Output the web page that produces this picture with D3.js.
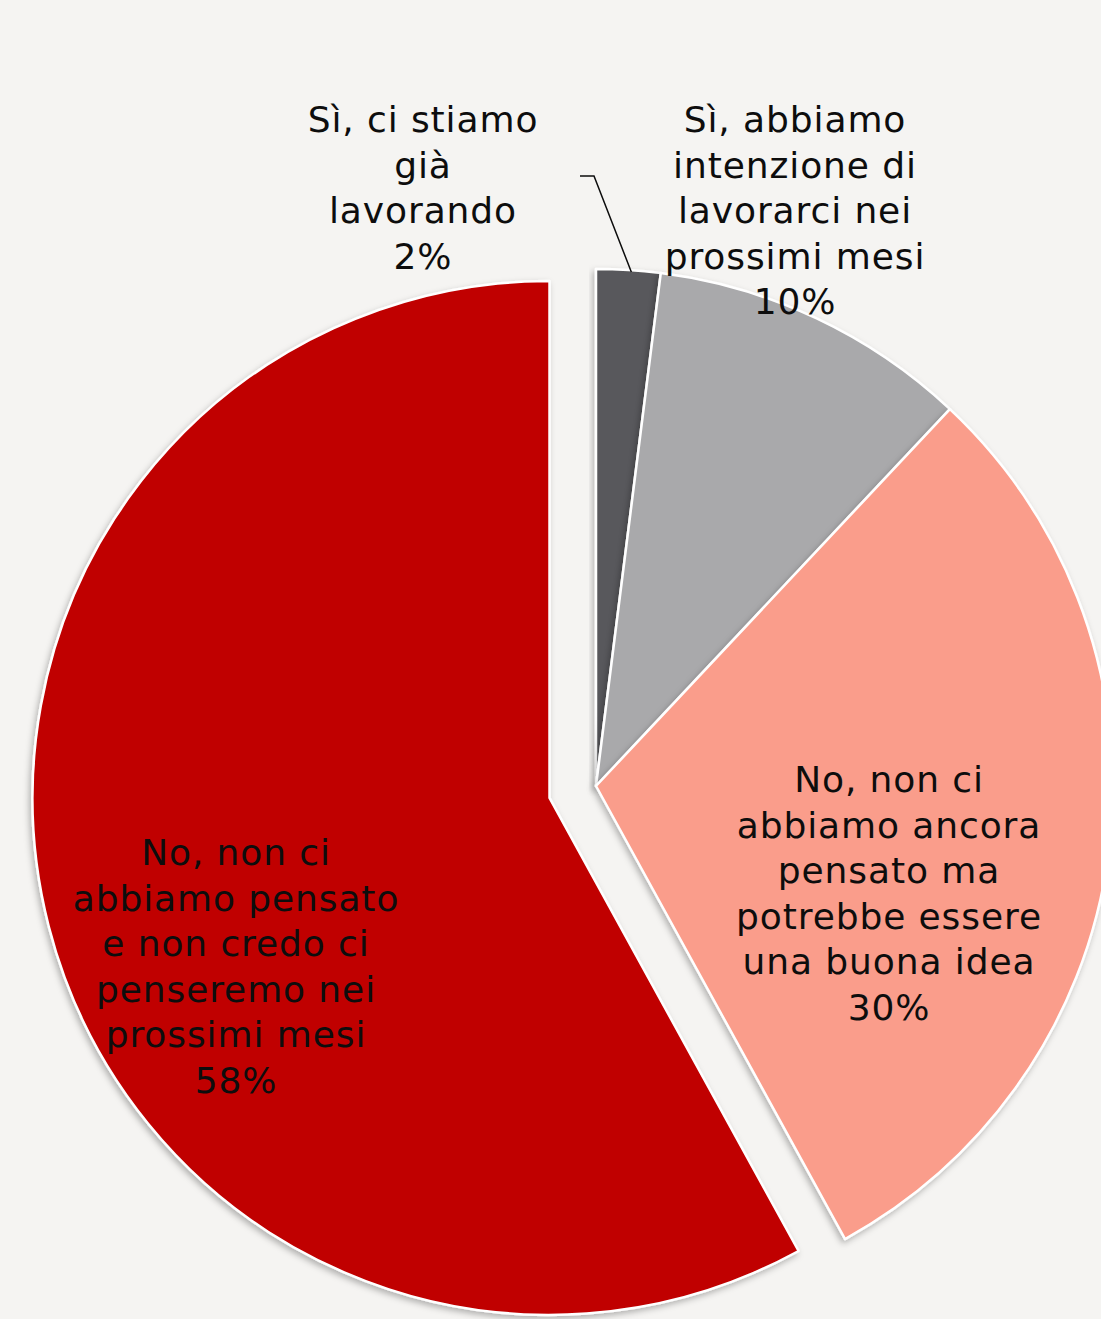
<!DOCTYPE html>
<html>
<head>
<meta charset="utf-8">
<script src="https://cdn.jsdelivr.net/npm/d3@7"></script>
<style>
  html, body { margin: 0; padding: 0; background: #F5F4F2; }
  svg { display: block; }
  text { font-family: "DejaVu Sans", sans-serif; fill: #0d0d0d; letter-spacing: 0.9px; }
</style>
</head>
<body>
<svg id="chart" width="1101" height="1319"></svg>
<script>
// Survey answers, clockwise from 12 o'clock
const categories = [
  "Sì, ci stiamo già lavorando",
  "Sì, abbiamo intenzione di lavorarci nei prossimi mesi",
  "No, non ci abbiamo ancora pensato ma potrebbe essere una buona idea",
  "No, non ci abbiamo pensato e non credo ci penseremo nei prossimi mesi"
];
const values = [2, 10, 30, 58];
const labelLines = [
  ["Sì, ci stiamo", "già", "lavorando"],
  ["Sì, abbiamo", "intenzione di", "lavorarci nei", "prossimi mesi"],
  ["No, non ci", "abbiamo ancora", "pensato ma", "potrebbe essere", "una buona idea"],
  ["No, non ci", "abbiamo pensato", "e non credo ci", "penseremo nei", "prossimi mesi"]
];
const colors = ["#59595B", "#A9A9AB", "#FA9D8B", "#C00000"];

const W = 1101, H = 1319;
const cx = 596, cy = 786, R = 517;
const explodeIndex = 3, explodeDist = 48;
const fontSize = 36, lineH = 45.5;

// label block anchors (x centre, first baseline) per slice
const labelPos = [
  { x: 423, y: 132 },
  { x: 795, y: 132 },
  { x: 889, y: 792 },
  { x: 236, y: 865 }
];

const svg = d3.select("#chart");

const defs = svg.append("defs");
const f = defs.append("filter").attr("id", "shadow")
  .attr("x", "-10%").attr("y", "-10%").attr("width", "120%").attr("height", "120%");
f.append("feDropShadow").attr("dx", -2).attr("dy", 3).attr("stdDeviation", 3)
  .attr("flood-color", "#000").attr("flood-opacity", 0.28);

const pie = d3.pie().sort(null).value(d => d);
const arcs = pie(values);
const arc = d3.arc().innerRadius(0).outerRadius(R);

const g = svg.append("g");

arcs.forEach((a, i) => {
  let ox = 0, oy = 0;
  if (i === explodeIndex) {
    const mid = (a.startAngle + a.endAngle) / 2;
    ox = Math.sin(mid) * explodeDist;
    oy = -Math.cos(mid) * explodeDist;
  }
  g.append("path")
    .attr("d", arc(a))
    .attr("transform", `translate(${cx + ox},${cy + oy})`)
    .attr("fill", colors[i])
    .attr("stroke", "#ffffff")
    .attr("stroke-width", 2.5)
    .attr("stroke-linejoin", "round")
    .attr("filter", "url(#shadow)");
});

// leader line for the small slice
const a0 = arcs[0];
const m0 = (a0.startAngle + a0.endAngle) / 2;
const tip = [cx + Math.sin(m0) * (R - 2) + 3, cy - Math.cos(m0) * (R - 2)];
svg.append("path")
  .attr("d", d3.line()([[580, 176], [594, 176], tip]))
  .attr("fill", "none").attr("stroke", "#0d0d0d").attr("stroke-width", 1.5);

// data labels
arcs.forEach((a, i) => {
  const lines = labelLines[i].concat([values[i] + "%"]);
  const t = svg.append("text")
    .attr("text-anchor", "middle")
    .attr("font-size", fontSize);
  lines.forEach((ln, k) => {
    t.append("tspan")
      .attr("x", labelPos[i].x)
      .attr("y", labelPos[i].y + k * lineH)
      .text(ln);
  });
});
</script>
</body>
</html>
